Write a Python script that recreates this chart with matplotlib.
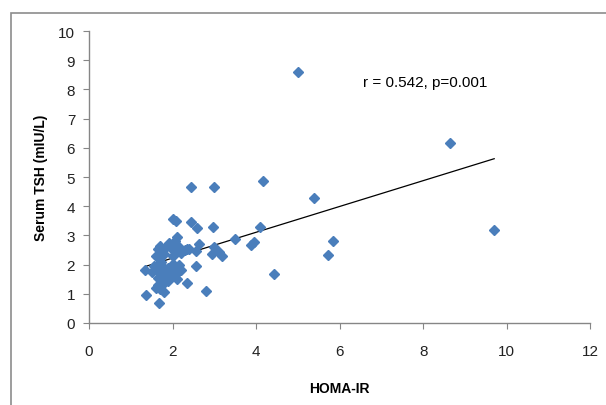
import matplotlib
matplotlib.use("Agg")
import matplotlib.pyplot as plt
from matplotlib.patches import Rectangle

# HOMA-IR vs serum TSH
homa_ir = [5.0, 8.63, 9.7, 4.17, 5.38, 2.45, 2.98, 5.83, 5.72, 4.43,
           4.1, 3.95, 3.88, 3.5, 3.0, 3.1, 3.18, 2.95, 2.58, 2.97,
           2.0, 2.08, 2.45, 2.8, 2.35, 2.55, 1.35, 1.37, 1.68, 1.6,
           1.8, 1.7,
           1.65, 1.72, 1.7, 1.85, 1.8, 1.92, 2.0, 2.05, 2.1, 2.02,
           2.2, 2.3, 2.4, 2.62, 2.35, 2.15, 1.6, 2.55,
           1.5, 1.6, 1.7, 1.75, 1.8, 1.85, 1.9, 1.95, 2.0, 2.05,
           2.1, 2.2, 1.65, 1.9, 2.0, 1.72, 1.55, 1.8, 2.15, 1.65, 2.1]
tsh = [8.6, 6.17, 3.2, 4.88, 4.27, 4.66, 4.67, 2.8, 2.33, 1.67,
       3.3, 2.78, 2.67, 2.88, 2.6, 2.43, 2.3, 2.35, 3.25, 3.3,
       3.56, 3.5, 3.45, 1.1, 1.37, 1.95, 1.8, 0.97, 0.68, 1.2,
       1.07, 1.15,
       2.55, 2.45, 2.65, 2.6, 2.35, 2.75, 2.5, 2.8, 2.95, 2.3,
       2.4, 2.5, 2.55, 2.7, 2.53, 2.62, 2.28, 2.45,
       1.75, 1.85, 1.7, 1.95, 1.8, 1.6, 1.9, 1.75, 1.65, 1.85,
       1.7, 1.8, 1.55, 1.45, 2.02, 2.08, 1.95, 1.38, 1.98, 1.3, 1.5]

# linear trend line as drawn
slope = 0.442
intercept = 1.34
annotation = "r = 0.542, p=0.001"

plt.rcParams['font.family'] = ['Liberation Sans', 'DejaVu Sans']

fig = plt.figure(figsize=(6.06, 4.06), dpi=100)
ax = fig.add_axes([0.147, 0.202, 0.827, 0.719])

# outer chart frame (cut off on the right and bottom)
fig.patches.append(Rectangle((11 / 606, -0.1), 1.2, 1 - 14 / 406 + 0.1,
                             transform=fig.transFigure, fill=False,
                             edgecolor='#8c8c8c', linewidth=1.2))

ax.plot(homa_ir, tsh, linestyle='none', marker='D', markersize=5.3,
        color='#4a7ebb', markeredgecolor='#4a7ebb', zorder=3)

x0, x1 = min(homa_ir), max(homa_ir)
ax.plot([x0, x1], [intercept + slope * x0, intercept + slope * x1],
        color='black', linewidth=0.9, zorder=2)

ax.text(6.57, 8.25, annotation, fontsize=11, va='center', ha='left')

ax.set_xlim(0, 12)
ax.set_ylim(0, 10)
ax.set_xticks(range(0, 13, 2))
ax.set_yticks(range(0, 11))
ax.set_xlabel('HOMA-IR', fontsize=10, fontweight='bold', labelpad=17)
ax.set_ylabel('Serum TSH (mIU/L)', fontsize=10, fontweight='bold', labelpad=7)

for s in ['top', 'right']:
    ax.spines[s].set_visible(False)
for s in ['left', 'bottom']:
    ax.spines[s].set_color('#868686')
    ax.spines[s].set_linewidth(1)
ax.tick_params(direction='out', length=4, color='#868686', labelsize=11,
               labelcolor='#222222')
ax.tick_params(axis='x', pad=11)
ax.tick_params(axis='y', pad=6)

fig.savefig('out.png', dpi=100)
